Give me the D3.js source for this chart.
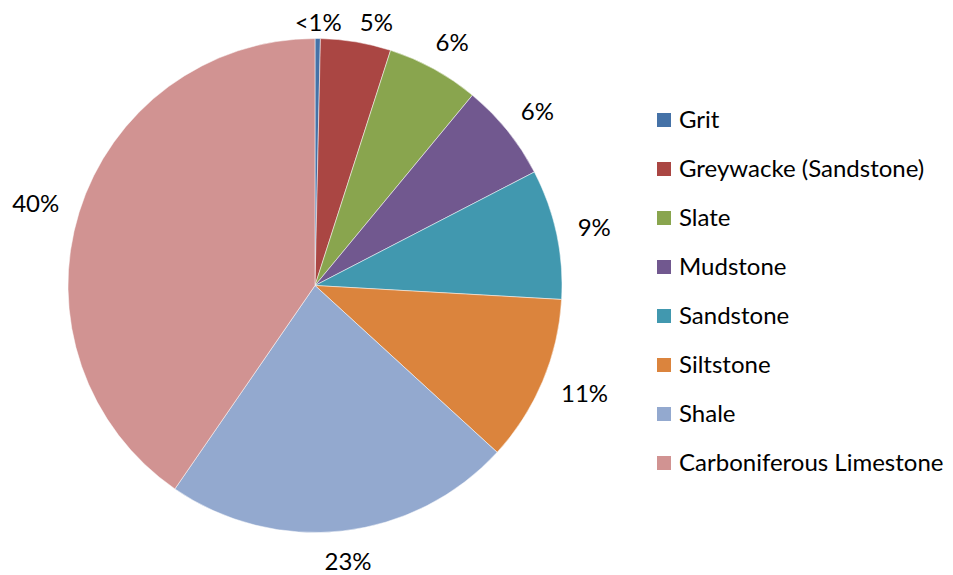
<!DOCTYPE html>
<html>
<head>
<meta charset="utf-8">
<script src="https://cdn.jsdelivr.net/npm/d3@7"></script>
<style>
  body { margin: 0; background: #fff; }
  svg { display: block; }
  text { font-family: Lato, "Noto Sans", sans-serif; fill: #000; }
</style>
</head>
<body>
<div id="chart"></div>
<script>
var width = 953,
    height = 575;

// rock types, in drawing order (clockwise from 12 o'clock)
var categories = ["Grit", "Greywacke (Sandstone)", "Slate", "Mudstone", "Sandstone", "Siltstone", "Shale", "Carboniferous Limestone"];
var values = [0.35, 4.6, 6.05, 6.4, 8.5, 10.9, 22.8, 40.4];
var labels = ["<1%", "5%", "6%", "6%", "9%", "11%", "23%", "40%"];
var colors = ["#4572A7", "#AA4643", "#89A54E", "#71588F", "#4198AF", "#DB843D", "#93A9CF", "#D19392"];

var cx = 315, cy = 285.5, radius = 247;

var svg = d3.select("#chart")
    .append("svg")
    .attr("width", width)
    .attr("height", height);

var pie = d3.pie().sort(null).value(function (d) { return d; });
var arc = d3.arc().innerRadius(0).outerRadius(radius);

var slices = pie(values);

var g = svg.append("g")
    .attr("transform", "translate(" + cx + "," + cy + ")");

g.selectAll("path")
    .data(slices)
    .enter().append("path")
    .attr("d", arc)
    .style("fill", function (d, i) { return colors[i]; })
    .style("stroke", "#fff")
    .style("stroke-width", 0.5);

// data labels: outside end, box edge touching a point a bit outside the rim
var labelRadius = radius + 22,
    boxH = 17,
    topLimit = 14 - cy;   // keep labels inside the chart area

var lbl = g.selectAll("text.lbl")
    .data(slices)
    .enter().append("text")
    .attr("class", "lbl")
    .style("font-size", "24px")
    .attr("text-anchor", "middle")
    .text(function (d, i) { return labels[i]; });

var boxes = [];
lbl.each(function (d) {
    var a = (d.startAngle + d.endAngle) / 2,
        w = this.getComputedTextLength();
    var x = labelRadius * Math.sin(a) + Math.sin(a) * w / 2,
        y = -labelRadius * Math.cos(a) - Math.cos(a) * boxH / 2;
    if (y - boxH / 2 < topLimit) y = topLimit + boxH / 2;
    boxes.push({ x: x, y: y, w: w });
});

// push neighbours apart when they collide
for (var i = 1; i < boxes.length; i++) {
    var p = boxes[i - 1], b = boxes[i];
    if (Math.abs(b.y - p.y) < boxH) {
        var minGap = (p.w + b.w) / 2 + 18;
        if (b.x - p.x < minGap) b.x = p.x + minGap;
    }
}

lbl.attr("x", function (d, i) { return boxes[i].x; })
    .attr("y", function (d, i) { return boxes[i].y + boxH / 2; });

// legend
var legend = svg.append("g")
    .attr("transform", "translate(657,113)");

var rows = legend.selectAll("g")
    .data(categories)
    .enter().append("g")
    .attr("transform", function (d, i) { return "translate(0," + (i * 49) + ")"; });

rows.append("rect")
    .attr("width", 14)
    .attr("height", 14)
    .style("fill", function (d, i) { return colors[i]; });

rows.append("text")
    .attr("x", 22)
    .attr("y", 15)
    .style("font-size", "24px")
    .text(function (d) { return d; });
</script>
</body>
</html>
